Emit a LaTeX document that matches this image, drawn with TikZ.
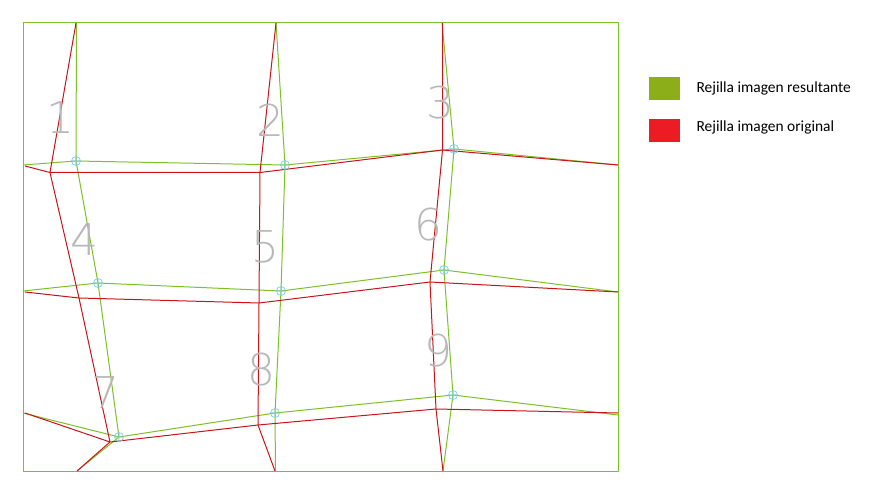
\documentclass[tikz,border=0pt]{standalone}
\usepackage{fontspec}
\newfontfamily\legendfont{Carlito}
\newfontfamily\numfont{DejaVu Sans ExtraLight}
\usepackage{tikz}

\definecolor{verdeRes}{RGB}{125,192,40}
\definecolor{rojoOrig}{RGB}{200,20,25}
\definecolor{verdeLey}{RGB}{140,174,24}
\definecolor{rojoLey}{RGB}{237,28,36}
\definecolor{marca}{RGB}{120,205,230}

\begin{document}
\begin{tikzpicture}[x=1bp,y=-1bp,
    resultante/.style={verdeRes,line width=1bp,line join=round},
    original/.style={rojoOrig,line width=1bp,line join=round},
    marcapunto/.style={marca,line width=0.7bp},
    numcelda/.style={black!28,font=\numfont\fontsize{44}{44}\selectfont},
    leyenda/.style={font=\legendfont\fontsize{15.5}{18}\selectfont,anchor=west}]

    \useasboundingbox (0,0) rectangle (877,488);

    % puntos de la rejilla resultante
    \coordinate (r11) at (76,161);
    \coordinate (r12) at (285,165);
    \coordinate (r13) at (454,149);
    \coordinate (r21) at (98,283);
    \coordinate (r22) at (281,291);
    \coordinate (r23) at (444,270);
    \coordinate (r31) at (119,437);
    \coordinate (r32) at (275,413);
    \coordinate (r33) at (453,395);

    % puntos de la rejilla original
    \coordinate (o11) at (50,172.5);
    \coordinate (o12) at (260,172.5);
    \coordinate (o13) at (442.5,150);
    \coordinate (o21) at (79,298);
    \coordinate (o22) at (259,303);
    \coordinate (o23) at (430,282);
    \coordinate (o31) at (110,442);
    \coordinate (o32) at (258,425);
    \coordinate (o33) at (436,409);

    % marco
    \draw[resultante] (23,23) rectangle (618,471);

    % rejilla resultante
    \draw[resultante] (76.5,23) -- (r11) -- (r21) -- (r31) -- (77,471);
    \draw[resultante] (276,23) -- (r12) -- (r22) -- (r32) -- (275.5,471);
    \draw[resultante] (442,23) -- (r13) -- (r23) -- (r33) -- (443,471);
    \draw[resultante] (23,165) -- (r11) -- (r12) -- (r13) -- (618,165);
    \draw[resultante] (23,291) -- (r21) -- (r22) -- (r23) -- (618,292);
    \draw[resultante] (23,413) -- (r31) -- (r32) -- (r33) -- (618,415);

    % rejilla original
    \draw[original] (76,23) -- (o11) -- (o21) -- (o31) -- (77,471);
    \draw[original] (276,23) -- (o12) -- (o22) -- (o32) -- (275,471);
    \draw[original] (442.5,23) -- (o13) -- (o23) -- (o33) -- (443,471);
    \draw[original] (25,166) -- (o11) -- (o12) -- (o13) -- (618,165);
    \draw[original] (25,292) -- (o21) -- (o22) -- (o23) -- (618,292);
    \draw[original] (25,413) -- (o31) -- (o32) -- (o33) -- (618,413);

    % marcas en los puntos
    \foreach \p in {r11,r12,r13,r21,r22,r23,r31,r32,r33}
        \draw[marcapunto] (\p) circle (4.5bp) ++(-4.5,0) -- ++(9,0) ++(-4.5,-4.5) -- ++(0,9);

    % numeros de celda
    \node[numcelda] (n1) at (60,118) {1};
    \node[numcelda] (n2) at (270,120) {2};
    \node[numcelda] (n3) at (440,103) {3};
    \node[numcelda] (n4) at (84,240) {4};
    \node[numcelda] (n5) at (265,247) {5};
    \node[numcelda] (n6) at (428,225) {6};
    \node[numcelda] (n7) at (105,393) {7};
    \node[numcelda] (n8) at (261,370) {8};
    \node[numcelda] (n9) at (438,351) {9};

    % leyenda
    \fill[verdeLey] (649,77) rectangle (680,100);
    \fill[rojoLey] (649,119) rectangle (680,142);
    \node[leyenda] (leyres) at (693,88) {Rejilla imagen resultante};
    \node[leyenda] (leyori) at (693,127) {Rejilla imagen original};

\end{tikzpicture}
\end{document}
